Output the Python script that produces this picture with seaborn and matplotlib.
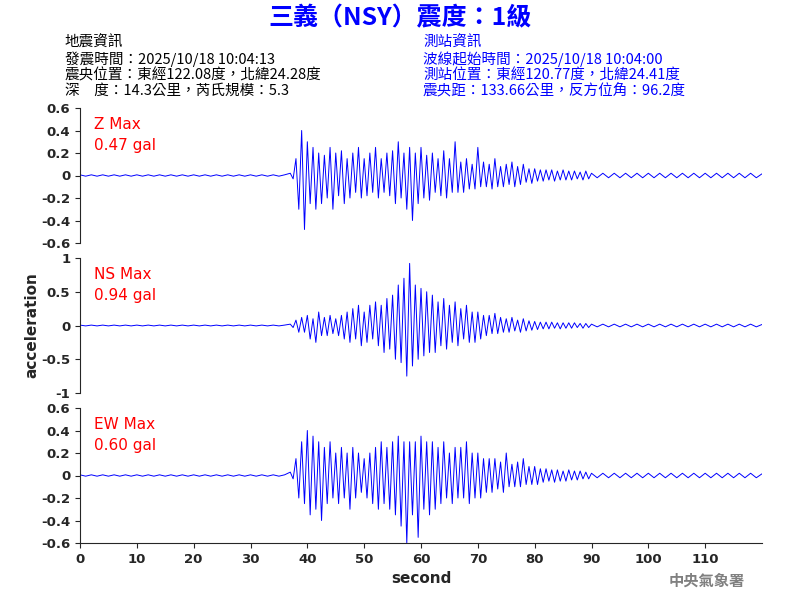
import numpy as np
import matplotlib
matplotlib.use("Agg")
import matplotlib.pyplot as plt
import seaborn as sns

sns.set_style("ticks")
plt.rcParams['font.family'] = ['Noto Sans CJK TC', 'DejaVu Sans']

# ---- data ----
quiet_pre = [0.006, -0.006] * 18 + [0.006]          # 0..36 s
z_act = [.02,-.03,.15,-.3,.4,-.48,.3,-.25,.25,-.3,.2,-.25,.18,-.2,.25,-.3,.2,-.18,.22,-.25,
         .15,-.2,.2,-.15,.25,-.2,.15,-.18,.2,-.15,.25,-.2,.15,-.15,.2,-.18,.22,-.25,.3,-.2,
         .2,-.3,.25,-.4,.2,-.25,.25,-.2,.18,-.22,.2,-.15,.15,-.18,.22,-.2,.15,-.15,.3,-.15,
         .12,-.15,.15,-.12,.1,-.12,.25,-.1,.12,-.1,.1,-.12,.15,-.1,.08,-.1,.1,-.08,.12,-.1,
         .08,-.08,.1,-.06,.06,-.07,.06,-.05,.05,-.05,.05,-.04,.05,-.05,.04,-.04,.05,-.04,.04,-.04,
         .04,-.03,.03,-.04,.04,-.03]
ns_act = [.02,-.03,.08,-.1,.12,-.1,.15,-.2,.1,-.25,.2,-.15,.12,-.15,.15,-.12,.1,-.15,.15,-.2,
          .2,-.25,.25,-.2,.3,-.3,.2,-.25,.3,-.2,.35,-.3,.3,-.4,.4,-.35,.45,-.5,.6,-.55,
          .7,-.75,.92,-.6,.6,-.5,.55,-.45,.5,-.4,.45,-.4,.35,-.3,.4,-.35,.3,-.25,.35,-.3,
          .25,-.2,.3,-.25,.2,-.25,.2,-.2,.15,-.15,.15,-.12,.18,-.12,.12,-.1,.1,-.1,.12,-.08,
          .08,-.1,.1,-.08,.07,-.07,.06,-.06,.05,-.05,.05,-.05,.05,-.04,.04,-.05,.04,-.04,.04,-.04,
          .04,-.03,.03,-.04,.03,-.03]
ew_act = [.03,-.03,.15,-.2,.3,-.25,.4,-.35,.35,-.3,.3,-.4,.25,-.25,.3,-.2,.2,-.25,.25,-.2,
          .2,-.3,.25,-.2,.2,-.15,.15,-.2,.2,-.25,.25,-.3,.3,-.25,.25,-.3,.3,-.35,.35,-.45,
          .3,-.6,.3,-.35,.3,-.55,.35,-.3,.3,-.35,.3,-.3,.25,-.25,.3,-.2,.2,-.25,.25,-.2,
          .25,-.2,.3,-.25,.2,-.2,.2,-.2,.15,-.15,.15,-.15,.15,-.12,.12,-.15,.2,-.1,.1,-.1,
          .12,-.1,.15,-.08,.08,-.08,.08,-.08,.06,-.06,.06,-.05,.05,-.06,.05,-.05,.04,-.05,.05,-.04,
          .04,-.04,.04,-.03,.03,-.03]
quiet_post = [0.02, -0.02] * 15 + [0.015]          # 90..120 s

channels = ["Z", "NS", "EW"]
max_labels = ["Z Max\n0.47 gal", "NS Max\n0.94 gal", "EW Max\n0.60 gal"]
y_limits = [(-0.6, 0.6), (-1, 1), (-0.6, 0.6)]
y_ticks = [[-0.6,-0.4,-0.2,0,0.2,0.4,0.6], [-1,-0.5,0,0.5,1], [-0.6,-0.4,-0.2,0,0.2,0.4,0.6]]
x_ticks = list(range(0, 120, 10))

t = np.concatenate([np.arange(0, 37, 1.0), np.arange(37, 90, 0.5), np.arange(90, 120.01, 1.0)])
series = [np.array(quiet_pre + a + quiet_post) for a in (z_act, ns_act, ew_act)]

fig = plt.figure(figsize=(8, 6), dpi=100)
tops = [108, 258, 408]
for i in range(3):
    ax = fig.add_axes([80/800, 1 - (tops[i]+135)/600, 682/800, 135/600])
    sns.lineplot(x=t, y=series[i], ax=ax, color="blue", lw=0.7)
    ax.set_xlim(0, 120)
    ax.set_ylim(*y_limits[i])
    ax.set_yticks(y_ticks[i])
    ax.set_yticklabels([f"{v:g}" for v in y_ticks[i]], fontsize=9.5, fontweight='bold', family='DejaVu Sans')
    ax.spines[['top', 'right']].set_visible(False)
    ax.text(0.02, 0.93, max_labels[i], transform=ax.transAxes, color="red", fontsize=11,
            va="top", family='DejaVu Sans', linespacing=1.5)
    ax.set_ylabel("")
    if i < 2:
        ax.spines['bottom'].set_visible(False)
        ax.set_xticks([])
    else:
        ax.set_xticks(x_ticks)
        ax.set_xticklabels([str(v) for v in x_ticks], fontsize=9.5, fontweight='bold', family='DejaVu Sans')
        ax.set_xlabel("second", fontsize=11, fontweight='bold', family='DejaVu Sans')

fig.text(32/800, 1 - 325/600, "acceleration", rotation=90, ha="center", va="center",
         fontsize=11, fontweight='bold', family='DejaVu Sans')
fig.text(0.5, 1 - 18/600, "三義（NSY）震度：1級", ha="center", va="center", color="blue",
         fontsize=18, fontweight='bold')
left = ["地震資訊", "發震時間：2025/10/18 10:04:13", "震央位置：東經122.08度，北緯24.28度", "深　度：14.3公里，芮氏規模：5.3"]
right = ["測站資訊", "波線起始時間：2025/10/18 10:04:00", "測站位置：東經120.77度，北緯24.41度", "震央距：133.66公里，反方位角：96.2度"]
for k, (l, r) in enumerate(zip(left, right)):
    y = 1 - (43 + 16*k)/600
    fig.text(65/800, y, l, fontsize=10.5, va="center", color="black", fontweight='medium')
    fig.text(423/800, y, r, fontsize=10.5, va="center", color="blue", fontweight='medium')
fig.text(745/800, 1 - 581/600, "中央氣象署", ha="right", va="center", color="gray", fontsize=11, fontweight='bold')
fig.savefig("out.png", dpi=100)
